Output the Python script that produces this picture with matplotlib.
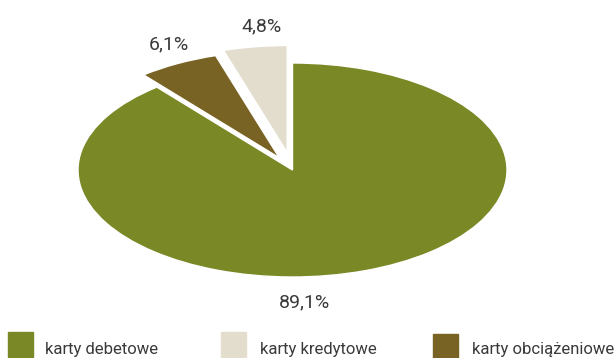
import matplotlib.pyplot as plt
from matplotlib.patches import Rectangle

plt.rcParams['font.family'] = ['Roboto', 'DejaVu Sans']

labels = ['karty debetowe', 'karty obciążeniowe', 'karty kredytowe']
values = [89.1, 6.1, 4.8]
value_labels = ['89,1%', '6,1%', '4,8%']
colors = ['#7A8926', '#796324', '#E3DDCD']
explode = [0.0, 0.13, 0.165]

legend_labels = ['karty debetowe', 'karty kredytowe', 'karty obciążeniowe']
legend_colors = ['#7A8926', '#E3DDCD', '#796324']

W, H = 616, 358
fig = plt.figure(figsize=(W / 100, H / 100), dpi=100)
ax = fig.add_axes([0, 0, 1, 1])

# ellipse centre and radii in pixels
cx, cy, rx, ry = 292.5, 170, 214.5, 107
wedges, _ = ax.pie(values, colors=colors, explode=explode, startangle=90,
                   counterclock=False, radius=1.0,
                   wedgeprops=dict(edgecolor='white', linewidth=1.0))
ax.set_aspect('auto')
ax.set_xlim(-cx / rx, (W - cx) / rx)
ax.set_ylim(-(H - cy) / ry, cy / ry)
ax.axis('off')

# value labels (baseline positions)
label_pos = [(305, 307), (169, 49), (262, 31)]
for (px, py), t in zip(label_pos, value_labels):
    fig.text(px / W, 1 - py / H, t, ha='center', va='baseline',
             fontsize=14, color='#3a3a3a')

# legend drawn by hand (staggered like the original)
patch_pos = [(8, 332), (221, 332), (433, 334)]
text_pos = [(45, 354), (260, 354), (472, 354)]
for (px, py), (tx, ty), lab, col in zip(patch_pos, text_pos, legend_labels, legend_colors):
    fig.patches.append(Rectangle((px / W, 1 - (py + 25) / H), 25 / W, 25 / H,
                                 transform=fig.transFigure, color=col))
    fig.text(tx / W, 1 - ty / H, lab, ha='left', va='baseline',
             fontsize=12, color='#3a3a3a')

fig.savefig('out.png', dpi=100)
